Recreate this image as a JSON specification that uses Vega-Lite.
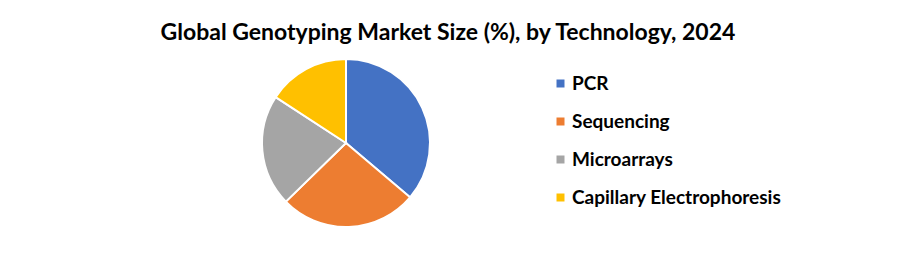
{
  "$schema": "https://vega.github.io/schema/vega-lite/v6.json",
  "width": 692,
  "height": 186,
  "autosize": {"type": "none"},
  "padding": {"left": 0, "top": 50, "right": 208, "bottom": 24},
  "background": "white",
  "title": {
    "text": "Global Genotyping Market Size (%), by Technology, 2024",
    "anchor": "middle",
    "dx": 102,
    "offset": 5,
    "font": "Lato",
    "fontSize": 23,
    "fontWeight": "bold",
    "color": "#000000"
  },
  "data": {
    "values": [
      {"technology": "PCR", "share": 36.2, "order": 1},
      {"technology": "Sequencing", "share": 26.5, "order": 2},
      {"technology": "Microarrays", "share": 21.5, "order": 3},
      {"technology": "Capillary Electrophoresis", "share": 15.8, "order": 4}
    ]
  },
  "mark": {"type": "arc", "outerRadius": 84, "stroke": "white", "strokeWidth": 2},
  "encoding": {
    "theta": {"field": "share", "type": "quantitative", "stack": true},
    "order": {"field": "order", "type": "quantitative"},
    "color": {
      "field": "technology",
      "type": "nominal",
      "sort": ["PCR", "Sequencing", "Microarrays", "Capillary Electrophoresis"],
      "scale": {
        "domain": ["PCR", "Sequencing", "Microarrays", "Capillary Electrophoresis"],
        "range": ["#4472C4", "#ED7D31", "#A5A5A5", "#FFC000"]
      },
      "legend": {
        "title": null,
        "orient": "none",
        "legendX": 551,
        "legendY": 24,
        "symbolType": "square",
        "symbolSize": 64,
        "symbolStrokeWidth": 0,
        "labelFont": "Lato",
        "labelFontSize": 19,
        "labelFontWeight": "bold",
        "labelColor": "#000000",
        "labelOffset": 2,
        "rowPadding": 18,
        "labelLimit": 400
      }
    }
  },
  "config": {"view": {"stroke": null}}
}
